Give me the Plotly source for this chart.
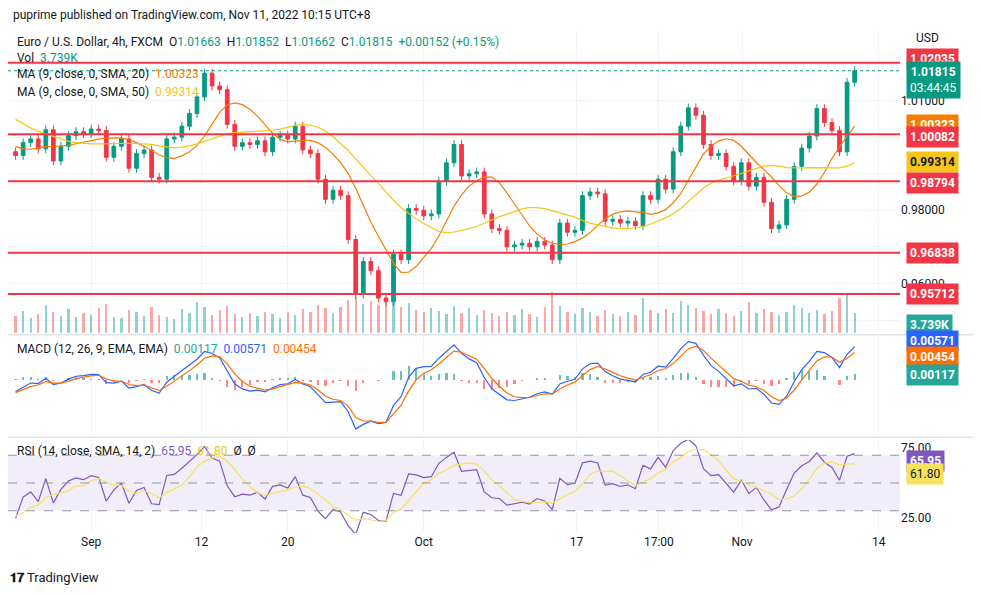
import numpy as np
import pandas as pd
import plotly.graph_objects as go

# 12h candles (index = half trading days from Aug 25)
pre_close = [1.0170, 1.0160, 1.0150, 1.0165, 1.0180, 1.0170, 1.0090, 1.0085, 1.0100, 1.0090,
             1.0050, 1.0040, 1.0035, 1.0045, 0.9960, 0.9945, 0.9980, 0.9965, 0.9975, 0.9960]
close = [0.9950, 0.9985, 0.9995, 0.9968, 1.0020, 0.9935, 0.9975, 1.0004, 1.0015, 1.0010,
         1.0022, 1.0018, 0.9945, 0.9975, 0.9995, 0.9915, 0.9955, 0.9965, 0.9890, 0.9885,
         0.9995, 1.0000, 1.0030, 1.0065, 1.0110, 1.0175, 1.0140, 1.0130, 1.0035, 0.9975,
         0.9985, 0.9980, 0.9990, 0.9960, 1.0000, 1.0005, 0.9995, 1.0030, 0.9965, 0.9955,
         0.9885, 0.9830, 0.9855, 0.9840, 0.9720, 0.9570, 0.9660, 0.9635, 0.9560, 0.9550,
         0.9680, 0.9665, 0.9805, 0.9800, 0.9785, 0.9790, 0.9880, 0.9930, 0.9980, 0.9894,
         0.9900, 0.9905, 0.9790, 0.9750, 0.9745, 0.9700, 0.9705, 0.9710, 0.9700, 0.9715,
         0.9705, 0.9665, 0.9765, 0.9740, 0.9745, 0.9840, 0.9850, 0.9845, 0.9770, 0.9775,
         0.9765, 0.9770, 0.9758, 0.9840, 0.9830, 0.9885, 0.9858, 0.9960, 1.0030, 1.0080,
         1.0060, 0.9980, 0.9950, 0.9955, 0.9920, 0.9880, 0.9930, 0.9866, 0.9890, 0.9822,
         0.9750, 0.9760, 0.9830, 0.9920, 0.9970, 1.0003, 1.0078, 1.0040, 1.0018, 0.9960,
         1.0150, 1.01815]
volume = [3.2, 4.1, 2.8, 3.6, 5.2, 4.0, 3.1, 4.4, 2.9, 3.8,
          3.3, 4.6, 5.5, 3.0, 2.7, 4.2, 3.9, 3.1, 4.8, 3.4,
          3.0, 2.6, 4.5, 3.7, 5.8, 4.9, 3.3, 4.2, 5.1, 3.6,
          2.9, 3.8, 3.2, 4.0, 3.5, 2.8, 3.9, 3.3, 4.4, 4.0,
          5.3, 4.6, 3.8, 4.9, 6.2, 6.8, 5.4, 6.0, 5.2, 6.4,
          6.9, 4.8, 5.6, 4.3, 3.9, 4.7, 4.1, 3.6, 5.0, 3.8,
          4.6, 3.4, 4.2, 3.7, 3.1, 3.9, 3.3, 4.4, 3.6, 3.0,
          4.8, 7.6, 5.1, 4.0, 3.5, 4.6, 3.9, 3.2, 4.3, 3.6,
          3.1, 4.0, 3.4, 6.5, 4.2, 3.8, 4.5, 3.7, 6.0, 5.3,
          4.6, 4.1, 3.6, 4.4, 3.8, 3.2, 4.1, 5.8, 3.7, 4.5,
          3.9, 3.3, 4.0, 5.2, 4.6, 3.8, 4.3, 3.5, 4.1, 6.6,
          7.2, 3.74]
levels = [1.02035, 1.00082, 0.98794, 0.96838, 0.95712]
tick_pos = [10, 24.6, 36, 54, 74.2, 85.1, 96.1, 114.2]
tick_text = ["Sep", "12", "20", "Oct", "17", "17:00", "Nov", "14"]

GREEN, RED = "#089981", "#F23645"
ORANGE, YELLOW, BLUE, PURPLE = "#F57C00", "#F5C518", "#2962FF", "#7E57C2"
GRID = "#F0F3FA"

full = pd.Series(pre_close + close)
n_pre = len(pre_close)
x = np.arange(len(close))
opn = [pre_close[-1]] + close[:-1]
wick = 0.0012
high = [max(o, c) + wick for o, c in zip(opn, close)]
low = [min(o, c) - wick for o, c in zip(opn, close)]
up = [c >= o for o, c in zip(opn, close)]

ma20 = full.rolling(7).mean().rolling(3).mean().iloc[n_pre:].values
ma50 = full.rolling(17, min_periods=10).mean().rolling(3).mean().iloc[n_pre:].values
ema_f = full.ewm(span=4, adjust=False).mean()
ema_s = full.ewm(span=9, adjust=False).mean()
macd = ema_f - ema_s
sig = macd.ewm(span=3, adjust=False).mean()
hist = (macd - sig)
macd, sig, hist = macd.iloc[n_pre:].values, sig.iloc[n_pre:].values, hist.iloc[n_pre:].values
d = full.diff()
gain = d.clip(lower=0).ewm(alpha=1 / 8, adjust=False).mean()
loss = (-d.clip(upper=0)).ewm(alpha=1 / 8, adjust=False).mean()
rsi = 100 - 100 / (1 + gain / loss)
rsi_ma = rsi.rolling(5).mean().iloc[n_pre:].values
rsi = rsi.iloc[n_pre:].values

fig = go.Figure()
fig.add_trace(go.Bar(x=x, y=volume, yaxis="y2", xaxis="x3",
                     marker_color=["rgba(38,166,154,0.5)" if u else "rgba(239,83,80,0.5)" for u in up],
                     marker_line_width=0, width=0.3))
fig.add_trace(go.Candlestick(x=x, open=opn, high=high, low=low, close=close, xaxis="x3", yaxis="y3",
                             increasing=dict(line=dict(color=GREEN, width=1), fillcolor=GREEN),
                             decreasing=dict(line=dict(color=RED, width=1), fillcolor=RED),
                             whiskerwidth=0))
fig.add_trace(go.Scatter(x=x, y=ma20, xaxis="x3", yaxis="y3", mode="lines", line=dict(color=ORANGE, width=1.2)))
fig.add_trace(go.Scatter(x=x, y=ma50, xaxis="x3", yaxis="y3", mode="lines", line=dict(color=YELLOW, width=1.2)))

fig.add_trace(go.Bar(x=x, y=hist, xaxis="x2", yaxis="y4", width=0.3, marker_line_width=0,
                     marker_color=["rgba(38,166,154,0.7)" if h >= 0 else "rgba(255,82,82,0.7)" for h in hist]))
fig.add_trace(go.Scatter(x=x, y=macd, xaxis="x2", yaxis="y4", mode="lines", line=dict(color=BLUE, width=1.2)))
fig.add_trace(go.Scatter(x=x, y=sig, xaxis="x2", yaxis="y4", mode="lines", line=dict(color="#FF6D00", width=1.2)))

fig.add_trace(go.Scatter(x=x, y=rsi, xaxis="x", yaxis="y", mode="lines", line=dict(color=PURPLE, width=1.2)))
fig.add_trace(go.Scatter(x=x, y=rsi_ma, xaxis="x", yaxis="y", mode="lines", line=dict(color="#F7E25B", width=1.2)))

shapes = [dict(type="rect", xref="x domain", yref="y", x0=0, x1=1, y0=30, y1=70,
               fillcolor="rgba(126,87,194,0.1)", line_width=0, layer="below")]
for v in (70, 50, 30):
    shapes.append(dict(type="line", xref="x domain", yref="y", x0=0, x1=1, y0=v, y1=v,
                       line=dict(color="#9598A1", width=1, dash="dash")))
for lv in levels:
    shapes.append(dict(type="line", xref="paper", yref="y3", x0=0, x1=1, y0=lv, y1=lv,
                       line=dict(color=RED, width=2)))
shapes.append(dict(type="line", xref="x3 domain", yref="y3", x0=0, x1=1, y0=close[-1], y1=close[-1],
                   line=dict(color=GREEN, width=1, dash="dot")))
for yp in (0.394, 0.1905):
    shapes.append(dict(type="line", xref="paper", yref="paper", x0=0, x1=1.09, y0=yp, y1=yp,
                       line=dict(color="#D1D4DC", width=1)))

ann = []
def box(yref, y, text, bg, fc="white"):
    ann.append(dict(xref="paper", yref=yref, x=1, y=y, xanchor="left", yanchor="middle", xshift=6, text=text,
                    showarrow=False, bgcolor=bg, font=dict(color=fc, size=12), borderpad=3))

box("y3", 1.0215, "<b>1.02035</b>", RED)
box("y3", 1.0157, "<b>1.01815</b><br>03:44:45", GREEN)
box("y3", 1.00323, "<b>1.00323</b>", ORANGE)
box("y3", 1.00082 - 0.0008, "<b>1.00082</b>", RED)
box("y3", 0.99314, "<b>0.99314</b>", "#F5C518", "#131722")
box("y3", 0.98794 - 0.0005, "<b>0.98794</b>", RED)
box("y3", 0.96838, "<b>0.96838</b>", RED)
box("y3", 0.95712, "<b>0.95712</b>", RED)
box("paper", 0.413, "<b>3.739K</b>", "#26A69A")
box("paper", 0.382, "<b>0.00571</b>", BLUE)
box("paper", 0.350, "<b>0.00454</b>", "#FF6D00")
box("paper", 0.314, "<b>0.00117</b>", "#26A69A")
box("y", 65.95, "<b>65.95</b>", PURPLE)
box("y", 56.5, "61.80", "#F7E25B", "#131722")

def txt(x, y, text, size=12, color="#131722"):
    ann.append(dict(xref="paper", yref="paper", x=x, y=y, xanchor="left", yanchor="middle",
                    text=text, showarrow=False, font=dict(size=size, color=color)))

txt(0.003, 1.029, "puprime published on TradingView.com, Nov 11, 2022 10:15 UTC+8", 12)
g = lambda s: f"<span style='color:{GREEN}'>{s}</span>"
txt(0.008, 0.976, "Euro / U.S. Dollar, 4h, FXCM  O" + g("1.01663") + "  H" + g("1.01852") + "  L" + g("1.01662")
    + "  C" + g("1.01815") + "  " + g("+0.00152 (+0.15%)"), 12)
txt(0.008, 0.944, "Vol  " + g("3.739K"), 12)
txt(0.008, 0.913, f"MA (9, close, 0, SMA, 20)  <span style='color:{ORANGE}'>1.00323</span>", 12)
txt(0.008, 0.877, f"MA (9, close, 0, SMA, 50)  <span style='color:{YELLOW}'>0.99314</span>", 12)
txt(0.008, 0.366, f"MACD (12, 26, 9, EMA, EMA)  <span style='color:#26A69A'>0.00117</span>  "
    f"<span style='color:{BLUE}'>0.00571</span>  <span style='color:#FF6D00'>0.00454</span>", 12)
txt(0.008, 0.163, f"RSI (14, close, SMA, 14, 2)  <span style='color:{PURPLE}'>65.95</span>  "
    f"<span style='color:#E6C619'>61.80</span>  Ø  Ø", 12)
txt(1.016, 0.985, "USD", 12)
txt(0.0, -0.088, "<b>𝟏𝟕</b> TradingView", 13)

xcommon = dict(range=[-1, 117], showgrid=True, gridcolor=GRID, zeroline=False, tickvals=tick_pos,
               showline=False, fixedrange=True)
fig.update_layout(
    width=973, height=587, margin=dict(l=0, r=81, t=22, b=62),
    paper_bgcolor="white", plot_bgcolor="white", showlegend=False,
    font=dict(family="Roboto, Arial, sans-serif", color="#131722", size=12),
    xaxis=dict(**xcommon, ticktext=tick_text, ticks="", anchor="y"),
    xaxis2=dict(**xcommon, showticklabels=False, anchor="y4", matches="x"),
    xaxis3=dict(**xcommon, showticklabels=False, anchor="y3", matches="x", rangeslider=dict(visible=False)),
    yaxis=dict(domain=[0, 0.185], range=[14, 81], side="right", tickvals=[25, 75],
               ticktext=["25.00", "75.00"], showgrid=False, zeroline=False),
    yaxis3=dict(domain=[0.398, 1], range=[0.9465, 1.0293], side="right", anchor="x3",
                tickvals=[0.95, 0.96, 0.97, 0.98, 0.99, 1.0, 1.01, 1.02],
                ticktext=["", "0.96000", "", "0.98000", "", "", "1.01000", ""],
                gridcolor=GRID, zeroline=False),
    yaxis2=dict(domain=[0.398, 1], overlaying="y3", range=[0, max(volume) * 7.5], visible=False),
    yaxis4=dict(domain=[0.197, 0.39], side="right", anchor="x2", showticklabels=False,
                showgrid=False, zeroline=False),
    shapes=shapes, annotations=ann, bargap=0,
)
fig.write_html("out.html")
